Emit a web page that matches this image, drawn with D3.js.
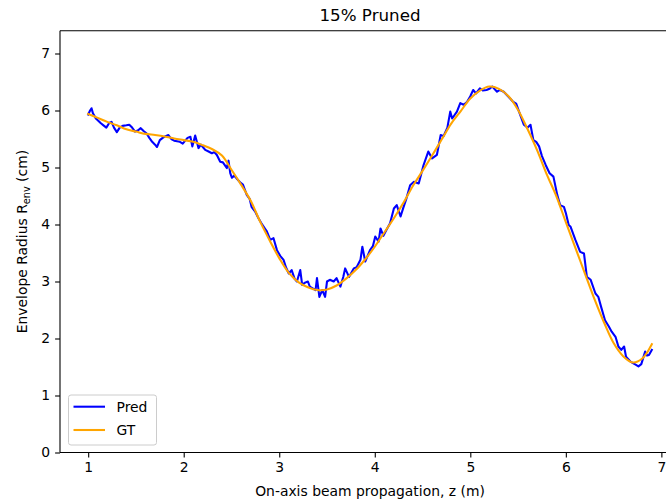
<!DOCTYPE html>
<html><head><meta charset="utf-8">
<script src="https://cdn.jsdelivr.net/npm/d3@7"></script>
<style>body{margin:0;background:#fff}svg{display:block;font-family:"DejaVu Sans",sans-serif}</style>
</head><body><svg id="c" width="666" height="502"></svg>
<script>
const title = "15% Pruned";
const xLabel = "On-axis beam propagation, z (m)";
const xTicks = [1,2,3,4,5,6,7];
const yTicks = [0,1,2,3,4,5,6,7];
const seriesNames = ["Pred","GT"];

const gtZ = [1.0,1.1,1.2,1.3,1.4,1.5,1.6,1.7,1.8,1.9,2.0,2.1,2.2,2.3,2.4,2.5,2.6,2.7,2.8,2.9,3.0,3.1,3.2,3.3,3.4,3.5,3.6,3.7,3.8,3.9,4.0,4.1,4.2,4.3,4.4,4.5,4.6,4.7,4.8,4.9,5.0,5.1,5.2,5.3,5.4,5.5,5.6,5.7,5.8,5.9,6.0,6.1,6.2,6.3,6.4,6.5,6.6,6.7,6.8,6.9];
const gtR = [5.94,5.87,5.80,5.74,5.67,5.63,5.59,5.57,5.545,5.51,5.48,5.45,5.39,5.32,5.21,4.96,4.70,4.42,4.05,3.72,3.41,3.15,2.99,2.90,2.85,2.86,2.93,3.05,3.20,3.39,3.61,3.86,4.11,4.38,4.68,4.94,5.21,5.49,5.77,5.99,6.21,6.35,6.42,6.38,6.25,6.01,5.67,5.30,4.88,4.50,4.04,3.59,3.14,2.69,2.28,1.92,1.69,1.58,1.65,1.90];

const predZ = [1.00,1.02,1.035,1.05,1.08,1.10,1.13,1.16,1.19,1.22,1.245,1.27,1.30,1.33,1.36,1.40,1.43,1.46,1.49,1.52,1.55,1.58,1.61,1.64,1.67,1.70,1.72,1.75,1.78,1.81,1.84,1.87,1.90,1.93,1.96,1.99,2.02,2.04,2.07,2.09,2.12,2.155,2.18,2.20,2.225,2.26,2.295,2.32,2.347,2.382,2.41,2.452,2.469,2.487,2.505,2.53,2.557,2.59,2.62,2.66,2.69,2.71,2.75,2.78,2.81,2.85,2.87,2.906,2.94,2.976,3.01,3.045,3.07,3.10,3.13,3.16,3.185,3.22,3.24,3.27,3.30,3.32,3.35,3.38,3.395,3.42,3.45,3.48,3.50,3.53,3.57,3.60,3.64,3.67,3.69,3.73,3.78,3.81,3.85,3.87,3.90,3.95,3.98,4.005,4.04,4.06,4.09,4.12,4.16,4.20,4.23,4.27,4.30,4.33,4.37,4.41,4.46,4.51,4.56,4.60,4.65,4.69,4.72,4.76,4.79,4.81,4.86,4.895,4.93,4.965,5.00,5.03,5.06,5.10,5.13,5.17,5.20,5.23,5.28,5.31,5.35,5.40,5.45,5.48,5.51,5.56,5.60,5.63,5.66,5.69,5.72,5.75,5.79,5.83,5.87,5.91,5.94,5.98,6.00,6.03,6.05,6.10,6.15,6.19,6.22,6.26,6.31,6.34,6.37,6.41,6.45,6.48,6.52,6.55,6.58,6.61,6.63,6.68,6.73,6.76,6.79,6.83,6.85,6.87,6.90];
const predR = [5.93,6.00,6.04,5.95,5.86,5.83,5.78,5.74,5.70,5.78,5.80,5.70,5.62,5.70,5.73,5.74,5.75,5.70,5.63,5.65,5.69,5.64,5.60,5.52,5.45,5.40,5.36,5.48,5.52,5.55,5.57,5.50,5.47,5.46,5.45,5.42,5.48,5.52,5.54,5.37,5.56,5.34,5.40,5.36,5.31,5.28,5.25,5.27,5.22,5.10,5.09,4.99,5.12,4.90,4.82,4.86,4.80,4.74,4.70,4.52,4.45,4.31,4.22,4.12,4.03,3.93,3.88,3.73,3.76,3.55,3.45,3.38,3.25,3.14,3.20,3.05,3.00,3.20,2.94,2.98,3.00,2.91,2.88,2.85,3.06,2.73,2.85,2.73,3.00,3.03,3.00,3.06,2.91,3.08,3.23,3.08,3.23,3.25,3.38,3.61,3.35,3.55,3.62,3.79,3.70,3.93,3.80,3.90,4.02,4.28,4.34,4.14,4.30,4.45,4.69,4.75,4.72,5.04,5.28,5.16,5.22,5.57,5.55,5.70,5.98,5.86,5.98,6.13,6.10,6.15,6.25,6.36,6.30,6.39,6.35,6.36,6.38,6.42,6.33,6.36,6.33,6.24,6.15,6.12,5.98,5.75,5.70,5.75,5.48,5.45,5.37,5.20,5.04,4.90,4.84,4.52,4.34,4.31,4.20,3.99,3.96,3.73,3.52,3.49,3.08,3.03,2.79,2.73,2.55,2.32,2.21,2.12,2.03,1.86,1.80,1.86,1.68,1.59,1.54,1.51,1.55,1.77,1.70,1.71,1.80];

const svg = d3.select("#c");
const L = 60, R = 680, T = 30.7, B = 452.5;
const x = d3.scaleLinear().domain([0.705, 7.195]).range([L, R]);
const y = d3.scaleLinear().domain([0, 7.4]).range([B, T]);

const line = d3.line().x(d => x(d[0])).y(d => y(d[1]));
const pred = predZ.map((z, i) => [z, predR[i]]);
const gt = gtZ.map((z, i) => [z, gtR[i]]);

svg.append("path").datum(pred).attr("d", line).attr("fill","none")
  .attr("stroke","#0000ff").attr("stroke-width",2.08).attr("stroke-linejoin","round").attr("stroke-linecap","square");
svg.append("path").datum(gt).attr("d", line.curve(d3.curveCatmullRom)).attr("fill","none")
  .attr("stroke","#ffa500").attr("stroke-width",2.08).attr("stroke-linejoin","round").attr("stroke-linecap","square");

// spines
const sp = svg.append("g").attr("stroke","#000").attr("stroke-width",1.1).attr("fill","none");
sp.append("line").attr("x1",L).attr("x2",L).attr("y1",T).attr("y2",B);
sp.append("line").attr("x1",L).attr("x2",R).attr("y1",B).attr("y2",B);
sp.append("line").attr("x1",L).attr("x2",R).attr("y1",T).attr("y2",T);
sp.append("line").attr("x1",R).attr("x2",R).attr("y1",T).attr("y2",B);

// axes
const xa = svg.append("g").attr("transform",`translate(0,${B})`)
  .call(d3.axisBottom(x).tickValues(xTicks).tickFormat(d3.format("d")).tickSizeOuter(0).tickSize(4.9).tickPadding(4.9));
const ya = svg.append("g").attr("transform",`translate(${L},0)`)
  .call(d3.axisLeft(y).tickValues(yTicks).tickFormat(d3.format("d")).tickSizeOuter(0).tickSize(4.9).tickPadding(4.9));
[xa, ya].forEach(a => {
  a.select(".domain").remove();
  a.selectAll(".tick line").attr("stroke","#000").attr("stroke-width",1.1);
  a.selectAll(".tick text").attr("fill","#000").style("font-size","13.9px").style("font-family","DejaVu Sans");
});

svg.append("text").attr("x", (L+R)/2).attr("y", 21).attr("text-anchor","middle")
  .style("font-size","16.7px").attr("fill","#000").text(title);
svg.append("text").attr("x", (L+R)/2).attr("y", 496).attr("text-anchor","middle")
  .style("font-size","13.9px").attr("fill","#000").text(xLabel);
const yl = svg.append("text").attr("transform",`translate(27,${(T+B)/2}) rotate(-90)`).attr("text-anchor","middle")
  .style("font-size","13.9px").attr("fill","#000");
yl.append("tspan").text("Envelope Radius R");
yl.append("tspan").attr("dy",3).style("font-size","9.7px").text("env");
yl.append("tspan").attr("dy",-3).text(" (cm)");

// legend
const lg = svg.append("g");
lg.append("rect").attr("x",68.5).attr("y",395).attr("width",88).attr("height",50).attr("rx",2.5)
  .attr("fill","#fff").attr("fill-opacity",0.8).attr("stroke","#cccccc").attr("stroke-width",1);
const colors = ["#0000ff","#ffa500"];
seriesNames.forEach((n, i) => {
  const cy = 406.7 + i*23.3;
  lg.append("line").attr("x1",73.5).attr("x2",105).attr("y1",cy).attr("y2",cy)
    .attr("stroke",colors[i]).attr("stroke-width",2.08);
  lg.append("text").attr("x",116.5).attr("y",cy+5).style("font-size","13.9px").attr("fill","#000").text(n);
});
</script></body></html>
